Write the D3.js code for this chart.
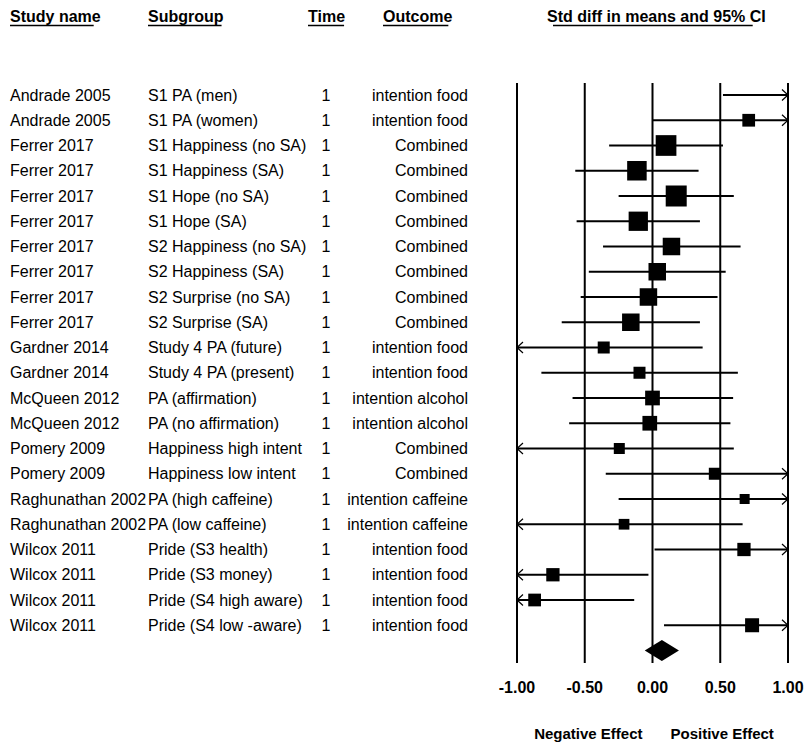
<!DOCTYPE html>
<html>
<head>
<meta charset="utf-8">
<script src="https://cdn.jsdelivr.net/npm/d3@7"></script>
<style>
  body { margin: 0; background: #fff; }
  svg { display: block; font-family: 'Liberation Sans', Arial, sans-serif; }
</style>
</head>
<body>
<svg class="forest" width="807" height="746"></svg>
<script>
const studies = ['Andrade 2005', 'Andrade 2005', 'Ferrer 2017', 'Ferrer 2017', 'Ferrer 2017', 'Ferrer 2017',
  'Ferrer 2017', 'Ferrer 2017', 'Ferrer 2017', 'Ferrer 2017', 'Gardner 2014', 'Gardner 2014',
  'McQueen 2012', 'McQueen 2012', 'Pomery 2009', 'Pomery 2009', 'Raghunathan 2002', 'Raghunathan 2002',
  'Wilcox 2011', 'Wilcox 2011', 'Wilcox 2011', 'Wilcox 2011']
const subgroups = ['S1 PA (men)', 'S1 PA (women)', 'S1 Happiness (no SA)', 'S1 Happiness (SA)',
  'S1 Hope (no SA)', 'S1 Hope (SA)', 'S2 Happiness (no SA)', 'S2 Happiness (SA)', 'S2 Surprise (no SA)',
  'S2 Surprise (SA)', 'Study 4 PA (future)', 'Study 4 PA (present)', 'PA (affirmation)', 'PA (no affirmation)',
  'Happiness high intent', 'Happiness low intent', 'PA (high caffeine)', 'PA (low caffeine)',
  'Pride (S3 health)', 'Pride (S3 money)', 'Pride (S4 high aware)', 'Pride (S4 low -aware)']
const times = [1, 1, 1, 1, 1, 1, 1, 1, 1, 1, 1, 1, 1, 1, 1, 1, 1, 1, 1, 1, 1, 1]
const outcomes = ['intention food', 'intention food', 'Combined', 'Combined', 'Combined', 'Combined',
  'Combined', 'Combined', 'Combined', 'Combined', 'intention food', 'intention food',
  'intention alcohol', 'intention alcohol', 'Combined', 'Combined', 'intention caffeine', 'intention caffeine',
  'intention food', 'intention food', 'intention food', 'intention food']
const smd = [1.25, 0.71, 0.10, -0.115, 0.175, -0.105, 0.14, 0.035, -0.03, -0.16, -0.36, -0.096,
  0.0, -0.02, -0.245, 0.46, 0.68, -0.21, 0.675, -0.735, -0.87, 0.735]
const lower = [0.52, 0.00, -0.32, -0.57, -0.25, -0.56, -0.365, -0.47, -0.53, -0.67, -1.09, -0.82,
  -0.59, -0.615, -1.09, -0.345, -0.25, -1.09, 0.015, -1.44, -1.6, 0.085]
const upper = [1.98, 1.42, 0.52, 0.34, 0.60, 0.35, 0.65, 0.54, 0.48, 0.35, 0.37, 0.63,
  0.595, 0.575, 0.60, 1.27, 1.61, 0.665, 1.335, -0.03, -0.135, 1.385]
const weights = [2.2, 2.57, 6.8, 6.04, 7.0, 5.9, 4.86, 4.86, 4.86, 4.86, 2.29, 2.29,
  3.43, 3.43, 1.92, 2.29, 1.59, 1.82, 2.8, 2.8, 2.57, 3.11]
const summary = { smd: 0.069, lower: -0.057, upper: 0.195 }
const ticks = [-1, -0.5, 0, 0.5, 1]
const tickLabels = ['-1.00', '-0.50', '0.00', '0.50', '1.00']

const data = studies.map((s, i) => ({
  study: s, subgroup: subgroups[i], time: times[i], outcome: outcomes[i],
  smd: smd[i], lower: lower[i], upper: upper[i], weight: weights[i], row: i
}))

const svg = d3.select('.forest')

const x = d3.scaleLinear().domain([-1, 1]).range([517, 788])
const y = d3.scalePoint().domain(d3.range(studies.length + 1)).range([95, 650.5])
const size = d3.scaleSqrt().domain([0, 7]).range([0, 21])
const clamp = v => Math.max(-1, Math.min(1, v))

// column headers
const headers = [
  { text: 'Study name', x: 10, anchor: 'start', u0: 0, u1: -7 },
  { text: 'Subgroup', x: 148, anchor: 'start', u0: 0, u1: -2 },
  { text: 'Time', x: 308, anchor: 'start', u0: 0, u1: -1 },
  { text: 'Outcome', x: 383, anchor: 'start', u0: 0, u1: -4 },
  { text: 'Std diff in means and 95% CI', x: 547, anchor: 'start', u0: 6, u1: -13 }
]
headers.forEach(h => {
  const t = svg.append('text')
    .attr('x', h.x)
    .attr('y', 22)
    .attr('font-size', 16)
    .attr('font-weight', 'bold')
    .text(h.text)
  const w = t.node().getComputedTextLength()
  svg.append('line')
    .attr('x1', h.x + h.u0).attr('x2', h.x + w + h.u1)
    .attr('y1', 25.5).attr('y2', 25.5)
    .attr('stroke', '#000').attr('stroke-width', 1.5)
})

// table text
const rows = svg.append('g').attr('font-size', 16).attr('fill', '#000')
data.forEach(d => {
  const base = y(d.row) + 5.5
  const st = rows.append('text').attr('x', 10).attr('y', base).text(d.study)
  const end = 10 + st.node().getComputedTextLength()
  rows.append('text').attr('x', Math.max(148, end)).attr('y', base).text(d.subgroup)
  rows.append('text').attr('x', 326).attr('y', base).attr('text-anchor', 'middle').text(d.time)
  rows.append('text').attr('x', 468).attr('y', base).attr('text-anchor', 'end').text(d.outcome)
})

// grid lines at ticks
svg.append('g').selectAll('line')
  .data(ticks)
  .enter().append('line')
  .attr('x1', d => x(d)).attr('x2', d => x(d))
  .attr('y1', 83).attr('y2', 663)
  .attr('stroke', '#000').attr('stroke-width', 2)

// axis labels
svg.append('g').selectAll('text')
  .data(ticks)
  .enter().append('text')
  .attr('x', d => x(d))
  .attr('y', 693)
  .attr('text-anchor', 'middle')
  .attr('font-size', 16)
  .attr('font-weight', 'bold')
  .text((d, i) => tickLabels[i])

svg.append('text')
  .attr('x', x(0) - 10).attr('y', 739)
  .attr('text-anchor', 'end')
  .attr('font-size', 15).attr('font-weight', 'bold')
  .text('Negative Effect')
svg.append('text')
  .attr('x', x(0) + 18).attr('y', 739)
  .attr('text-anchor', 'start')
  .attr('font-size', 15).attr('font-weight', 'bold')
  .text('Positive Effect')

// confidence intervals
const g = svg.append('g')
g.selectAll('.ci')
  .data(data)
  .enter().append('line')
  .attr('class', 'ci')
  .attr('x1', d => x(clamp(d.lower))).attr('x2', d => x(clamp(d.upper)))
  .attr('y1', d => y(d.row)).attr('y2', d => y(d.row))
  .attr('stroke', '#000').attr('stroke-width', 2.2)

// arrows where the interval runs past the axis
const arrow = (xe, yc, dir) => `M${xe - dir * 6},${yc - 5.5}L${xe},${yc}L${xe - dir * 6},${yc + 5.5}`
g.selectAll('.arr-r')
  .data(data.filter(d => d.upper > 1))
  .enter().append('path')
  .attr('d', d => arrow(x(1), y(d.row), 1))
  .attr('fill', 'none').attr('stroke', '#000').attr('stroke-width', 1.2)
g.selectAll('.arr-l')
  .data(data.filter(d => d.lower < -1))
  .enter().append('path')
  .attr('d', d => arrow(x(-1), y(d.row), -1))
  .attr('fill', 'none').attr('stroke', '#000').attr('stroke-width', 1.2)

// study squares
g.selectAll('.sq')
  .data(data.filter(d => d.smd >= -1 && d.smd <= 1))
  .enter().append('rect')
  .attr('class', 'sq')
  .attr('x', d => x(d.smd) - size(d.weight) / 2)
  .attr('y', d => y(d.row) - size(d.weight) / 2)
  .attr('width', d => size(d.weight))
  .attr('height', d => size(d.weight))
  .attr('fill', '#000')

// summary diamond
const yd = y(studies.length)
g.append('path')
  .attr('d', `M${x(summary.lower)},${yd}L${x(summary.smd)},${yd - 10.5}L${x(summary.upper)},${yd}L${x(summary.smd)},${yd + 10.5}Z`)
  .attr('fill', '#000')
</script>
</body>
</html>
